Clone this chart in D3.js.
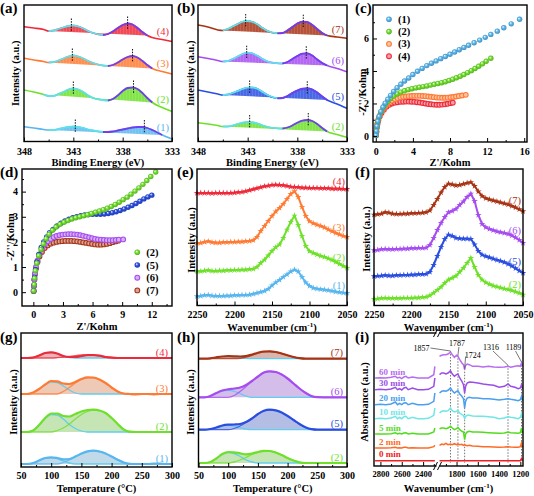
<!DOCTYPE html>
<html><head><meta charset="utf-8">
<script src="https://cdn.jsdelivr.net/npm/d3@7"></script>
<style>body{margin:0;background:#fff}svg{display:block}</style>
</head><body>
<script>
// ================= DATA =================
// (a),(b) XPS
const xpsX = [348,347,346,345.5,345,344.5,344,343.5,343,342.5,342,341.5,341,340,339.5,339,338.5,338,337.5,337,336.5,336,335.5,335,334,333];
const xpsA4 = [114.3,113,111.5,110,110.5,112,113.5,115,115.5,114.5,112.5,110,108,106,107,109.5,113,116,117.5,116.5,113,109,105.5,103.5,101.5,99.5];
const xpsA3 = [82.7,81,79.5,78.5,79,80.5,82.5,84.5,85.5,84.5,82.5,80,78,75.5,75,76,78.5,81.5,84,85,83.5,80,76,72.5,69.5,67];
const xpsA2 = [51,49,46.5,45,45,47,49,51.5,52.5,51.5,49,45.5,43,41,40.5,42,45.5,50,53,53.5,52,48,43,38.5,33.5,29.5];
const xpsA1 = [14.3,13,11.5,11,11,12,13,14,14.5,14,13,11.5,10.5,9,9,9.5,10.5,11.5,12.5,13.5,14,14,13,11,6,2];
const xpsB7 = [116,114,111,110.5,112,114.5,117,119.3,120,119,116.5,113,110,107.7,108,110.5,114,117.5,119.3,119,116,112,108,105.5,104,102.7];
const xpsB6 = [84.3,82.5,80.5,79.5,80,82,84.5,87,88.3,87.5,85,82,79.5,77.7,77.5,79,82,85,87.3,87.7,85.5,81.5,78,75.5,72.5,69.3];
const xpsB5 = [51,49,47,46,46.5,48,50,52,53.3,53.5,52,49,46,42.7,43,45,48,50.5,52.3,52.7,51.5,48.5,44.5,41,37,32.7];
const xpsB2 = [18.3,17,15.5,14.5,14.5,15.5,17,18.3,19,18.7,17.5,15.5,14,12.7,12.5,13.5,15.5,18.3,20.3,21,20,17,13,9.5,6.5,3.7];
const xpsACenters = [[343.2,337.5],[343.1,337.0],[343.0,336.9],[342.8,335.8]];
const xpsBCenters = [[343.2,337.4],[343.1,337.1],[342.8,337.0],[342.8,336.9]];
const xpsARegions = [[345.5,340,335.5],[345.5,339.5,334.5],[346,339.5,334.5],[345.5,340,334]];
const xpsBRegions = [[345.5,340,335],[345.5,339.5,335],[345.5,340,335],[345.5,339.5,334.5]];
const xpsTicks = [348,343,338,333];

// (c),(d) EIS  [Z', -Z'']
const eis1 = [[0.03,0.05],[0.08,0.3],[0.13,0.6],[0.22,0.9],[0.36,1.2],[0.55,1.5],[0.78,1.78],[1.02,2.02],[1.3,2.26],[1.6,2.5],[1.93,2.74],[2.3,2.97],[2.7,3.18],[3.1,3.38],[3.55,3.57],[4.0,3.78],[4.5,3.98],[5.0,4.16],[5.5,4.33],[6.0,4.48],[6.5,4.62],[7.0,4.76],[7.5,4.89],[8.0,5.03],[8.5,5.17],[9.0,5.31],[9.5,5.45],[10.0,5.58],[10.6,5.74],[11.2,5.9],[11.8,6.07],[12.4,6.25],[13.1,6.45],[13.8,6.66],[14.6,6.9],[15.5,7.18]];
const eis2 = [[0.03,0.05],[0.08,0.3],[0.13,0.55],[0.22,0.85],[0.36,1.15],[0.55,1.45],[0.78,1.7],[1.02,1.92],[1.3,2.12],[1.6,2.3],[1.95,2.46],[2.3,2.59],[2.7,2.7],[3.1,2.78],[3.5,2.85],[3.9,2.91],[4.3,2.96],[4.7,3.0],[5.1,3.04],[5.5,3.08],[5.9,3.13],[6.3,3.18],[6.7,3.23],[7.1,3.28],[7.5,3.34],[7.9,3.41],[8.3,3.49],[8.7,3.58],[9.1,3.68],[9.5,3.78],[9.9,3.9],[10.3,4.02],[10.7,4.15],[11.1,4.29],[11.5,4.44],[11.9,4.6],[12.4,4.78]];
const eis3 = [[0.03,0.05],[0.06,0.25],[0.1,0.5],[0.17,0.75],[0.27,1.0],[0.42,1.25],[0.62,1.5],[0.87,1.72],[1.15,1.92],[1.45,2.07],[1.75,2.18],[2.05,2.27],[2.35,2.33],[2.65,2.38],[2.95,2.41],[3.25,2.43],[3.55,2.45],[3.85,2.46],[4.15,2.47],[4.45,2.47],[4.75,2.47],[5.05,2.46],[5.35,2.45],[5.65,2.43],[5.95,2.41],[6.25,2.39],[6.55,2.37],[6.85,2.36],[7.15,2.35],[7.45,2.35],[7.75,2.36],[8.05,2.38],[8.35,2.4],[8.65,2.43],[8.95,2.46],[9.3,2.49],[9.7,2.53]];
const eis4 = [[0.03,0.05],[0.06,0.25],[0.1,0.5],[0.17,0.72],[0.27,0.95],[0.42,1.2],[0.62,1.42],[0.87,1.62],[1.15,1.8],[1.45,1.92],[1.75,2.0],[2.05,2.05],[2.35,2.08],[2.65,2.1],[2.95,2.11],[3.25,2.12],[3.55,2.12],[3.85,2.11],[4.15,2.1],[4.45,2.08],[4.75,2.06],[5.05,2.03],[5.35,2.0],[5.65,1.97],[5.95,1.95],[6.25,1.93],[6.55,1.92],[6.85,1.92],[7.15,1.93],[7.45,1.95],[7.75,1.98],[8.05,2.02],[8.3,2.05]];
const eis5 = [[0.03,0.05],[0.08,0.3],[0.13,0.6],[0.22,0.9],[0.36,1.2],[0.55,1.5],[0.8,1.78],[1.05,2.0],[1.35,2.2],[1.65,2.37],[2.0,2.5],[2.4,2.63],[2.8,2.74],[3.2,2.83],[3.6,2.9],[4.0,2.96],[4.4,3.0],[4.8,3.04],[5.2,3.07],[5.6,3.09],[6.0,3.1],[6.4,3.1],[6.8,3.1],[7.2,3.11],[7.6,3.13],[8.0,3.16],[8.4,3.2],[8.8,3.25],[9.2,3.31],[9.6,3.38],[10.0,3.45],[10.4,3.53],[10.8,3.62],[11.2,3.71],[11.6,3.79],[12.0,3.86]];
const eis6 = [[0.03,0.05],[0.06,0.25],[0.1,0.5],[0.17,0.75],[0.27,1.0],[0.42,1.25],[0.62,1.5],[0.87,1.72],[1.15,1.9],[1.45,2.03],[1.75,2.12],[2.05,2.19],[2.35,2.24],[2.65,2.27],[2.95,2.29],[3.25,2.3],[3.55,2.31],[3.85,2.31],[4.15,2.3],[4.45,2.29],[4.75,2.27],[5.05,2.24],[5.35,2.21],[5.65,2.18],[5.95,2.15],[6.25,2.12],[6.55,2.1],[6.85,2.09],[7.15,2.08],[7.45,2.07],[7.75,2.07],[8.05,2.07],[8.35,2.08],[8.65,2.09],[9.1,2.1]];
const eis7 = [[0.03,0.05],[0.06,0.25],[0.1,0.5],[0.17,0.72],[0.27,0.95],[0.42,1.2],[0.62,1.42],[0.87,1.6],[1.15,1.76],[1.45,1.86],[1.75,1.93],[2.05,1.97],[2.35,2.0],[2.65,2.02],[2.95,2.03],[3.25,2.04],[3.55,2.04],[3.85,2.04],[4.15,2.03],[4.45,2.02],[4.75,2.0],[5.05,1.98],[5.35,1.96],[5.65,1.94],[5.95,1.92],[6.25,1.9],[6.55,1.89],[6.85,1.89],[7.15,1.9],[7.45,1.92],[7.75,1.95],[8.05,1.99],[8.35,2.02],[8.6,2.05]];
const eisCTicksX = [0,4,8,12,16], eisCTicksY = [0,2,4,6];
const eisDTicksX = [0,3,6,9,12], eisDTicksY = [0,1,2,3,4];

// (e),(f) spectra (stars)
const wn = [2250,2245,2240,2235,2230,2225,2220,2215,2210,2205,2200,2195,2190,2185,2180,2175,2170,2165,2160,2155,2150,2145,2140,2135,2130,2125,2120,2115,2110,2105,2100,2095,2090,2085,2080,2075,2070,2065,2060,2055,2050];
const irE4 = [113,113,113,113,112.7,113,113,113,113,113,113.3,113.7,114,114.7,115.7,116.7,117.7,118.7,119.7,120.3,121,121.3,121,120.7,120,119.3,119,118.7,118.3,118.3,118,118,118,117.7,117.7,117.7,117.3,117.3,117.3,117,117];
const irE3 = [63,63,64,64.7,63.7,63.3,63.3,63.7,63.7,64,64,64.3,64.3,64.7,65,65.7,69,75,80,85,90,94.5,98,102,107,112,114.7,109,99,90,84.7,82.7,81.3,80,78.5,76.5,74.7,73,71.5,70,69];
const irE2 = [34.7,34.7,35.3,35.7,35,35,35.3,35.3,35.7,35.7,36,36,36.3,36.3,36.7,37,39,43,46.3,50.5,55,58.7,61.5,68,76.3,84,90.3,81,70,60,54.7,53,51.5,50,49,47.5,46,44,42,40,38];
const irE1 = [9.7,10,10.7,11,10.3,10,10,10,10.3,10.3,10.7,10.7,11,11,11.3,12,13,14,15,17,20.5,23.5,26,29,31.5,34.5,36.3,34.5,29,23.5,20,18,17.3,16.7,16.3,15.7,15,14.3,13.7,13.3,13];
const irF7 = [91.3,91.7,92.3,93.7,93.3,92.3,92,92,92.3,92.3,92.7,92.7,93,93.3,93.7,95.5,101,107,113.5,119,122.3,121.5,120.5,121,122,123,123.7,120,114.5,110,107.7,106.5,105.5,104.5,103.5,102.5,101.5,100,98.5,96.7,94.7];
const irF6 = [55.7,56,56.7,57,56.7,56.7,57,57,57.3,57.3,57.7,57.7,58,58,58.3,61,68,76,83,89,93.7,95,97,101,104.5,109,112.3,105,91,82,78.7,77,75.7,74.5,73.7,73,72,70.5,68.5,66,63];
const irF5 = [29.7,30,30.3,30.7,30.3,30.3,30.7,30.7,31,31,31.3,31.3,31.7,31.7,32,34,41,50,59,67,71.3,70,68,67.5,67.3,67.3,67,61.5,55,51.3,49.7,48.5,47.3,46,45,43.7,42,40,37.7,35.3,33];
const irF2 = [7,7.3,7.7,8,7.7,7.7,7.7,7.7,8,8,8,8.3,8.3,8.7,9,10.5,13,16,19,23,26.3,28,30,34,38,43,48,39,31,26.3,23.5,21.7,20.3,19.3,18.3,17.3,16.5,15.5,14.3,13,11.3];
const wnTicks = [2250,2200,2150,2100,2050];

// (g),(h) TPD : envelope, low-T component, high-T component
const tT = [50,60,70,80,90,100,110,120,130,140,150,160,170,180,190,200,210,220,230,240,250,260,270,280,290,300];
const tpdG4 = [109,109,109.5,111.5,114,114.7,113.5,111,110,110,111,112,112,111.3,110,109.3,109,109,109,109,109,109,109,109,109,109];
const tpdG4a = [109,109,109.5,111.5,114,114.5,113,110.5,109.3,109,109,109,109,109,109,109,109,109,109,109,109,109,109,109,109,109];
const tpdG4b = [109,109,109,109,109,109,109.3,109.8,110.6,111.4,112,112.2,112,111.3,110.3,109.6,109.2,109,109,109,109,109,109,109,109,109];
const tpdG3 = [73,73,74.5,78,82.5,86,85.7,83.5,83,85,88,89.7,89.5,87.5,84,79.5,75.5,73.5,73,72.7,73,73,72.7,73,73,73];
const tpdG3a = [73,73,74.5,78,82.3,85,84.5,81,77,74,73,73,73,73,73,73,73,73,73,73,73,73,73,73,73,73];
const tpdG3b = [73,73,73,73,73,73,73,75.5,79.5,84,87.5,89.3,89.2,87.3,84,79.5,75.5,73.3,73,73,73,73,73,73,73,73];
const tpdG2 = [35,35,36.5,42,49,53.5,53.5,51,50.5,53,55.5,57,57.3,56.5,54,49,43,37.5,35.3,35,35,35,35,35,35,35];
const tpdG2a = [35,35,36.5,42,48.5,52.5,52,48,42.5,38.5,36,35,35,35,35,35,35,35,35,35,35,35,35,35,35,35];
const tpdG2b = [35,35,35,35,35,35,36.5,39,43,48,52.5,55.5,57,56.3,54,49,43,37.5,35,35,35,35,35,35,35,35];
const tpdG1 = [3,3,4,6.5,9,9.7,9,7.7,8,10.5,13.5,15.7,16.3,15.5,13.5,10.5,7.3,4.5,3.2,3,3,3,3.5,3.5,3,3];
const tpdG1a = [3,3,4,6.5,8.7,9.3,8.3,6,4,3,3,3,3,3,3,3,3,3,3,3,3,3,3,3,3,3];
const tpdG1b = [3,3,3,3,3,3,3,4.5,7,10,13,15.3,16.2,15.5,13.5,10.5,7.3,4.5,3,3,3,3,3,3,3,3];
const tpdH7 = [108.3,108.3,108.7,109.7,110.5,110.8,110.7,110.5,111,112.5,114.3,115.5,115.7,115,113.5,111.7,110,108.8,108.3,108.3,108.3,108.3,108.3,108.3,108.3,108.3];
const tpdH7a = [108.3,108.3,108.7,109.5,110.3,110.7,110.4,109.5,108.7,108.3,108.3,108.3,108.3,108.3,108.3,108.3,108.3,108.3,108.3,108.3,108.3,108.3,108.3,108.3,108.3,108.3];
const tpdH7b = [108.3,108.3,108.3,108.3,108.3,108.3,108.3,108.7,109.8,111.7,113.8,115.2,115.6,115,113.5,111.7,110,108.8,108.3,108.3,108.3,108.3,108.3,108.3,108.3,108.3];
const tpdH6 = [69.7,69.7,71,74,76.5,77.7,78.5,79.5,82,86,90.5,94.5,95.7,95,92.5,88.5,83.5,78.5,74.2,71,69.8,69.7,69.7,69.7,69.7,69.7];
const tpdH6a = [69.7,69.7,71,73.7,76,76.7,75.7,73.5,71,69.7,69.7,69.7,69.7,69.7,69.7,69.7,69.7,69.7,69.7,69.7,69.7,69.7,69.7,69.7,69.7,69.7];
const tpdH6b = [69.7,69.7,69.7,69.7,69.7,69.7,71.5,75.5,80.5,85.5,90.2,94.3,95.6,95,92.5,88.5,83.5,78.5,74.2,71,69.7,69.7,69.7,69.7,69.7,69.7];
const tpdH5 = [37.3,37.3,38,39.5,41.5,42.3,42.5,43,45,48.5,53,56.3,57.3,56.7,54.5,51,47,43,39.7,37.8,37.3,37.3,37.3,37.3,37.3,37.3];
const tpdH5a = [37.3,37.3,38,39.3,41,41.7,41,39.3,37.8,37.3,37.3,37.3,37.3,37.3,37.3,37.3,37.3,37.3,37.3,37.3,37.3,37.3,37.3,37.3,37.3,37.3];
const tpdH5b = [37.3,37.3,37.3,37.3,37.3,37.3,38.5,41,44.5,48.5,53,56.2,57.2,56.7,54.5,51,47,43,39.7,37.8,37.3,37.3,37.3,37.3,37.3,37.3];
const tpdH2 = [4,4,5,8.5,13,15,14.7,13.7,12.7,13.5,15,16.2,16,14.5,12,9,6.5,4.7,4,4,4,4,4,4,4,4];
const tpdH2a = [4,4,5,8.3,12.5,14.3,13.5,10.5,7.2,5,4,4,4,4,4,4,4,4,4,4,4,4,4,4,4,4];
const tpdH2b = [4,4,4,4,4,4,5,7,9.5,12.5,14.7,16,16,14.5,12,9,6.5,4.7,4,4,4,4,4,4,4,4];
const tTicks = [50,100,150,200,250,300];

// (i) in-situ DRIFTS (broken axis)
const ftL = [2850,2800,2750,2700,2660,2640,2620,2600,2580,2560,2540,2500,2450,2400,2350,2300,2290];
const ftR = [1960,1940,1920,1900,1880,1857,1840,1820,1800,1787,1770,1750,1735,1724,1715,1700,1680,1650,1600,1550,1500,1450,1400,1350,1316,1290,1250,1220,1200,1189,1180];
const ft60L = [88,88.3,88,88.7,89.7,88,88.7,87.3,89,89.7,88,89,88,88,88,91.3,99.7];
const ft30L = [76.3,76.7,76.3,77,78.7,76.3,77.3,76,78,78.7,76.3,78,76.3,76.3,76.7,79.7,88];
const ft20L = [61.3,61.7,61.3,62,64,61.3,62.7,61.3,63,63.3,61.3,62.7,61.3,61.3,61.7,64.7,73];
const ft10L = [47.3,47.7,47.3,48,49.7,47.3,48.7,47.3,49.3,49.7,47.3,48.7,47.3,47.3,47.7,50.7,58];
const ft5L = [32,32,32,32.3,33.3,32,32.7,32,33,33.3,32,32.7,32,32,32,34,38];
const ft2L = [18,18,18,18.3,18.7,18,18.3,18,18.7,18.7,18,18.3,18,18,18,19.3,20.7];
const ft0L = [5.3,5.3,5.3,5.3,5.3,5.3,5.3,5.3,5.3,5.3,5.3,5.3,5.3,5.3,5.3,5.3,5.3];
const ft60R = [109.7,110.7,111.3,111.3,112,114,111.3,108.7,110.7,109.7,106.3,103,101.3,96.3,100.7,102,101.3,99.7,99.7,99,99.7,99,98.7,99,99.7,98.7,99.7,100.3,99.7,103,99.7];
const ft30R = [91.3,93,93,92,93,95.3,92,89.7,91.3,92,88,84.7,81.3,73,79.7,83,84,83.7,83,82,81.3,80.7,78.7,79.7,82,79.7,78.7,77.3,78,81.3,77.3];
const ft20R = [73,74.7,75.3,74.7,75.7,78,75.3,73,74.7,75.3,72,69.7,67.3,58,64.7,68,68.7,68,68,67.3,67.3,66.7,66,66.7,67.3,66.7,66,65.3,66.3,69.7,65.3];
const ft10R = [53,54.7,55.3,54.7,55.3,58,55.3,54,54.7,55.3,53,51.3,50.7,47.3,49.7,50.7,50.7,50,49.7,49.7,49.3,48.7,47.3,48,49.3,48.7,48,47.3,48.7,52,48];
const ft5R = [37.3,38,38,37.3,38,39.7,38,36.3,37.3,38.7,36.3,34.7,34,26.3,32,34,34.7,34,34,33.7,33.3,33,32.7,33,34,33.3,33,32.7,33.3,38,33];
const ft2R = [20.7,22,21.3,22.7,21.3,22,21.3,22.3,21.3,22,21.3,21.7,20.7,21.3,20.7,20.3,20.7,20,19.7,19.3,19.3,19,18.7,19,19.3,19,18.7,18.7,19.3,23,18.7];
const ft0R = [5.3,5.3,5.3,5.3,5.3,5.3,5.3,5.3,5.3,5.3,5.3,5.3,5.3,5.3,5.3,5.3,5.3,5.3,5.3,5.3,5.3,5.3,5.3,5.3,5.3,5.3,5.3,5.3,5.3,7.3,5.3];
const ftNames = ["60 min","30 min","20 min","10 min","5 min","2 min","0 min"];
const ftPeaks = [1857,1787,1724,1316,1189];
const ftTicksL = [2800,2600,2400], ftTicksR = [1800,1600,1400,1200];

// colours
const C = {1:"#58b6ee",2:"#6ee02a",3:"#ff7a33",4:"#ee2a3a",5:"#2a4ee0",6:"#a64cf0",7:"#a83416"};
const ftColors = ["#b86cf0","#9a4ee6","#4a9ff0","#70e6e6","#52dc1e","#ff6a26","#f02020"];

// ================= DRAW =================
const FONT = "'Liberation Serif','Times New Roman',Times,serif";
const svg = d3.select("body").append("svg").attr("width",534).attr("height",496);
const defs = svg.append("defs");

function txt(x,y,s,o={}){
  const t = svg.append("text").attr("x",x).attr("y",y).text(s)
    .attr("font-family",FONT).attr("font-size",o.size||10.5)
    .attr("font-weight",o.weight||"bold").attr("fill",o.fill||"#000")
    .attr("text-anchor",o.anchor||"start");
  if(o.rot){ t.attr("dominant-baseline","central").attr("transform",`rotate(-90,${x},${y})`); }
  return t;
}
function frame(f){
  svg.append("rect").attr("x",f.x0).attr("y",f.y0).attr("width",f.x1-f.x0).attr("height",f.y1-f.y0)
    .attr("fill","none").attr("stroke","#000").attr("stroke-width",1.4);
}
function styleAxis(g,fs){
  g.select(".domain").remove();
  g.attr("font-family",FONT).attr("font-size",fs||10).attr("font-weight","bold");
  g.selectAll("line").attr("stroke","#000").attr("stroke-width",1);
  g.selectAll("text").attr("fill","#000");
}
function xAxis(sc,y,ticks,minor,pad,fs){
  const g = svg.append("g").attr("transform",`translate(0,${y})`)
    .call(d3.axisBottom(sc).tickValues(ticks).tickSizeInner(-4).tickSizeOuter(0).tickPadding(pad||5).tickFormat(d3.format("d")));
  styleAxis(g,fs);
  if(minor){ const m = svg.append("g").attr("transform",`translate(0,${y})`)
    .call(d3.axisBottom(sc).tickValues(minor).tickSizeInner(-2).tickSizeOuter(0).tickFormat(""));
    styleAxis(m); }
}
function yAxis(sc,x,ticks,minor){
  const g = svg.append("g").attr("transform",`translate(${x},0)`)
    .call(d3.axisLeft(sc).tickValues(ticks).tickSizeInner(-4).tickSizeOuter(0).tickPadding(4).tickFormat(d3.format("d")));
  styleAxis(g);
  if(minor){ const m = svg.append("g").attr("transform",`translate(${x},0)`)
    .call(d3.axisLeft(sc).tickValues(minor).tickSizeInner(-2).tickSizeOuter(0).tickFormat(""));
    styleAxis(m); }
}
function wnTitle(cx,y){
  const t = txt(cx,y,"Wavenumber (cm",{anchor:"middle"});
  t.append("tspan").attr("font-size",7).attr("dy",-4).text("-1");
  t.append("tspan").attr("dy",4).text(")");
}
function panelLabel(x,y,s){ txt(x,y,s,{size:15}); }

// ---------- (a),(b) ----------
const FA = {x0:24,x1:172,y0:5,y1:141.5}, FB = {x0:198,x1:347,y0:5,y1:141.5};
const hp = defs.append("pattern").attr("id","hatch").attr("patternUnits","userSpaceOnUse").attr("width",3).attr("height",3);
hp.append("line").attr("x1",0).attr("y1",0).attr("x2",0).attr("y2",3).attr("stroke","#fff").attr("stroke-opacity",0.22).attr("stroke-width",1);
function drawXPS(F,series,cols,centers,regions,names){
  const x = d3.scaleLinear().domain([348,333]).range([F.x0,F.x1]);
  const y = d3.scaleLinear().domain([0,136]).range([141,5]);
  const ln = d3.line().x(p=>x(p[0])).y(p=>y(p[1])).curve(d3.curveMonotoneX);
  series.forEach((vals,i)=>{
    const col = cols[i];
    const pts = xpsX.map((v,j)=>[v,vals[j]]);
    const [s,v,e] = regions[i];
    const inR = pts.filter(p=>p[0]<=s && p[0]>=e);
    svg.append("path").attr("d",ln(inR)+"Z").attr("fill",col).attr("fill-opacity",0.85);
    svg.append("path").attr("d",ln(inR)+"Z").attr("fill","url(#hatch)");
    svg.append("path").attr("d",ln(pts)).attr("fill","none").attr("stroke",col).attr("stroke-width",1.6);
    svg.append("path").attr("d",ln(pts.filter(p=>p[0]<=s && p[0]>=v))).attr("fill","none").attr("stroke","#5fe0ee").attr("stroke-width",1.8);
    svg.append("path").attr("d",ln(pts.filter(p=>p[0]<=v && p[0]>=e))).attr("fill","none").attr("stroke","#7040f0").attr("stroke-width",1.8);
    centers[i].forEach(c=>{
      const j = d3.minIndex(xpsX,a=>Math.abs(a-c));
      const top = d3.max(vals.slice(Math.max(0,j-1),j+2));
      svg.append("line").attr("x1",x(c)).attr("x2",x(c)).attr("y1",y(top+7)).attr("y2",y(top-6))
        .attr("stroke","#111").attr("stroke-width",1).attr("stroke-dasharray","1.5,1.2");
    });
    const lv = vals[xpsX.indexOf(334)];
    txt(F.x1-3,y(lv+8)+3.5,names[i],{anchor:"end",fill:col,size:10.5,weight:"normal"});
  });
  frame(F);
  xAxis(x,F.y1,xpsTicks,[345.5,340.5,335.5],6);
  txt((F.x0+F.x1)/2,165.5,"Binding Energy (eV)",{anchor:"middle"});
}
drawXPS(FA,[xpsA4,xpsA3,xpsA2,xpsA1],[C[4],C[3],C[2],C[1]],xpsACenters,xpsARegions,["(4)","(3)","(2)","(1)"]);
drawXPS(FB,[xpsB7,xpsB6,xpsB5,xpsB2],[C[7],C[6],C[5],C[2]],xpsBCenters,xpsBRegions,["(7)","(6)","(5)","(2)"]);
txt(15,(FA.y0+FA.y1)/2,"Intensity (a.u.)",{anchor:"middle",rot:true});
txt(190.5,(FB.y0+FB.y1)/2,"Intensity (a.u.)",{anchor:"middle",rot:true});
panelLabel(0,13,"(a)"); panelLabel(177,13,"(b)");

// ---------- ball markers ----------
function grad(id,col){
  const g = defs.append("radialGradient").attr("id",id).attr("cx","50%").attr("cy","50%").attr("r","55%").attr("fx","35%").attr("fy","32%");
  g.append("stop").attr("offset","0%").attr("stop-color","#ffffff");
  g.append("stop").attr("offset","45%").attr("stop-color",col);
  g.append("stop").attr("offset","100%").attr("stop-color",d3.color(col).darker(0.8));
}
[1,2,3,4,5,6,7].forEach(k=>grad("b"+k,C[k]));
function balls(x,y,data,k,ring){
  svg.append("g").selectAll("circle").data(data).join("circle")
    .attr("cx",d=>x(d[0])).attr("cy",d=>y(d[1])).attr("r",ring?2.4:2.7)
    .attr("fill",ring? d3.interpolateRgb(C[k],"#fff")(0.55) : `url(#b${k})`)
    .attr("stroke",ring?C[k]:"none").attr("stroke-width",1.1);
}
function legend(x,y0,dy,ks,rings){
  ks.forEach((k,i)=>{
    const yy = y0+i*dy;
    svg.append("circle").attr("cx",x).attr("cy",yy).attr("r",rings[i]?2.4:2.8)
      .attr("fill",rings[i]?d3.interpolateRgb(C[k],"#fff")(0.55):`url(#b${k})`).attr("stroke",rings[i]?C[k]:"none").attr("stroke-width",1.1);
    txt(x+9,yy+3.5,`(${k})`,{size:10.5});
  });
}

// ---------- (c) ----------
const FC = {x0:373,x1:527,y0:5,y1:142};
{
  const x = d3.scaleLinear().domain([-0.3,16.3]).range([FC.x0,FC.x1]);
  const y = d3.scaleLinear().domain([-0.37,8.06]).range([FC.y1,FC.y0]);
  balls(x,y,eis4,4,true); balls(x,y,eis3,3,true); balls(x,y,eis2,2,false); balls(x,y,eis1,1,false);
  frame(FC);
  xAxis(x,FC.y1,eisCTicksX,[2,6,10,14],6);
  yAxis(y,FC.x0,eisCTicksY,[1,3,5,7]);
  legend(389,19.3,12.3,[1,2,3,4],[false,false,true,true]);
  txt((FC.x0+FC.x1)/2,165.5,"Z'/Kohm",{anchor:"middle"});
  txt(362,92,"-Z''/Kohm",{anchor:"middle",rot:true});
  panelLabel(355,13,"(c)");
}
// ---------- (d) ----------
const FD = {x0:22,x1:172,y0:169,y1:306};
{
  const x = d3.scaleLinear().domain([-1.15,14.05]).range([FD.x0,FD.x1]);
  const y = d3.scaleLinear().domain([-0.55,4.9]).range([FD.y1,FD.y0]);
  balls(x,y,eis7,7,true); balls(x,y,eis6,6,true); balls(x,y,eis5,5,false); balls(x,y,eis2,2,false);
  frame(FD);
  xAxis(x,FD.y1,eisDTicksX,[1.5,4.5,7.5,10.5,13.5]);
  yAxis(y,FD.x0,eisDTicksY,[0.5,1.5,2.5,3.5,4.5]);
  legend(137.3,252.3,12.7,[2,5,6,7],[false,false,true,true]);
  txt((FD.x0+FD.x1)/2,330,"Z'/Kohm",{anchor:"middle"});
  txt(10,237,"-Z''/Kohm",{anchor:"middle",rot:true});
  panelLabel(0,177,"(d)");
}
// ---------- (e),(f) ----------
const FE = {x0:197,x1:347,y0:169,y1:305.5}, FF = {x0:374,x1:523,y0:169,y1:305.5};
function drawStars(F,series,ks,names){
  const x = d3.scaleLinear().domain([2250,2050]).range([F.x0,F.x1]);
  const y = d3.scaleLinear().domain([0,137]).range([306,169]);
  const ln = d3.line().x(p=>x(p[0])).y(p=>y(p[1]));
  const star = d3.symbol().type(d3.symbolStar).size(13);
  series.forEach((vals,i)=>{
    const col = C[ks[i]];
    const pts = wn.map((w,j)=>[w,vals[j]]);
    svg.append("path").attr("d",ln(pts)).attr("fill","none").attr("stroke",col).attr("stroke-width",2);
    svg.append("g").selectAll("path").data(pts).join("path")
      .attr("transform",d=>`translate(${x(d[0])},${y(d[1])})`).attr("d",star).attr("fill",col);
    txt(F.x1-2,y(vals[wn.indexOf(2060)]+7)+3.5,names[i],{anchor:"end",fill:col,weight:"normal"});
  });
  frame(F);
  xAxis(x,F.y1,wnTicks,[2225,2175,2125,2075]);
  wnTitle((F.x0+F.x1)/2,331);
}
drawStars(FE,[irE4,irE3,irE2,irE1],[4,3,2,1],["(4)","(3)","(2)","(1)"]);
drawStars(FF,[irF7,irF6,irF5,irF2],[7,6,5,2],["(7)","(6)","(5)","(2)"]);
txt(191,240,"Intensity (a.u.)",{anchor:"middle",rot:true});
txt(366,239,"Intensity (a.u.)",{anchor:"middle",rot:true});
panelLabel(177,177,"(e)"); panelLabel(355,177,"(f)");

// ---------- (g),(h) ----------
const FG = {x0:21,x1:172,y0:333,y1:467}, FH = {x0:198.5,x1:347,y0:333,y1:467};
function drawTPD(F,sets,ks,names){
  const x = d3.scaleLinear().domain([50,300]).range([F.x0,F.x1]);
  const y = d3.scaleLinear().domain([0,134]).range([467,333]);
  const ln = d3.line().x(p=>x(p[0])).y(p=>y(p[1])).curve(d3.curveMonotoneX);
  sets.forEach(([env,a,b],i)=>{
    const col = C[ks[i]];
    const base = env[0];
    const pts = tT.map((t,j)=>[t,env[j]]);
    const ar = d3.area().x(p=>x(p[0])).y0(y(base)).y1(p=>y(p[1])).curve(d3.curveMonotoneX);
    svg.append("path").attr("d",ar(pts)).attr("fill",d3.interpolateRgb(col,"#8a8a8a")(0.35)).attr("fill-opacity",0.42);
    svg.append("path").attr("d",ln(tT.map((t,j)=>[t,a[j]]))).attr("fill","none").attr("stroke","#62cdef").attr("stroke-width",1.3);
    svg.append("path").attr("d",ln(tT.map((t,j)=>[t,b[j]]))).attr("fill","none").attr("stroke",col).attr("stroke-width",1.3).attr("stroke-opacity",0.8);
    svg.append("path").attr("d",ln(pts)).attr("fill","none").attr("stroke",col).attr("stroke-width",2.2);
    txt(F.x1-4,y(base+6)+3.5,names[i],{anchor:"end",fill:col,weight:"normal"});
  });
  frame(F);
  xAxis(x,F.y1,tTicks,[75,125,175,225,275]);
  const t = txt((F.x0+F.x1)/2,492,"Temperature (",{anchor:"middle"});
  t.append("tspan").text("°C)");
}
drawTPD(FG,[[tpdG4,tpdG4a,tpdG4b],[tpdG3,tpdG3a,tpdG3b],[tpdG2,tpdG2a,tpdG2b],[tpdG1,tpdG1a,tpdG1b]],[4,3,2,1],["(4)","(3)","(2)","(1)"]);
drawTPD(FH,[[tpdH7,tpdH7a,tpdH7b],[tpdH6,tpdH6a,tpdH6b],[tpdH5,tpdH5a,tpdH5b],[tpdH2,tpdH2a,tpdH2b]],[7,6,5,2],["(7)","(6)","(5)","(2)"]);
txt(13.5,402,"Intensity (a.u.)",{anchor:"middle",rot:true});
txt(190,402,"Intensity (a.u.)",{anchor:"middle",rot:true});
panelLabel(0,342,"(g)"); panelLabel(177,342,"(h)");

// ---------- (i) ----------
const FI = {x0:374,x1:523,y0:333,y1:466};
{
  const xL = d3.scaleLinear().domain([2860,2270]).range([FI.x0,437]);
  const xR = d3.scaleLinear().domain([1965,1175]).range([439,FI.x1]);
  const y = d3.scaleLinear().domain([0,133]).range([466,333]);
  const lnL = d3.line().x(p=>xL(p[0])).y(p=>y(p[1]));
  const lnR = d3.line().x(p=>xR(p[0])).y(p=>y(p[1]));
  const Ls = [ft60L,ft30L,ft20L,ft10L,ft5L,ft2L,ft0L];
  const Rs = [ft60R,ft30R,ft20R,ft10R,ft5R,ft2R,ft0R];
  ftPeaks.forEach(p=>{
    const j = d3.minIndex(ftR,w=>Math.abs(w-p));
    svg.append("line").attr("x1",xR(p)).attr("x2",xR(p)).attr("y1",y(ft60R[j]+1)).attr("y2",y(ft0R[j]-2))
      .attr("stroke","#666").attr("stroke-width",0.9).attr("stroke-dasharray","1.5,1.5");
  });
  Ls.forEach((L,i)=>{
    const col = ftColors[i];
    svg.append("path").attr("d",lnL(ftL.map((w,j)=>[w,L[j]]))).attr("fill","none").attr("stroke",col).attr("stroke-width",1.5);
    svg.append("path").attr("d",lnR(ftR.map((w,j)=>[w,Rs[i][j]]))).attr("fill","none").attr("stroke",col).attr("stroke-width",1.5);
    txt(379,y(L[0]+6.5)+3,ftNames[i],{fill:col,size:9});
  });
  frame(FI);
  [FI.y0,FI.y1].forEach(yy=>{
    svg.append("rect").attr("x",436.5).attr("y",yy-2).attr("width",3).attr("height",4).attr("fill","#fff");
    [435.5,439.5].forEach(xx=>svg.append("line").attr("x1",xx-2).attr("y1",yy+4).attr("x2",xx+2).attr("y2",yy-4).attr("stroke","#000").attr("stroke-width",1));
  });
  xAxis(xL,FI.y1,ftTicksL,[2700,2500,2300],5,8.5);
  xAxis(xR,FI.y1,ftTicksR,[1900,1700,1500,1300],5,8.5);
  wnTitle((FI.x0+FI.x1)/2,492);
  txt(364.5,402,"Absorbance (a.u.)",{anchor:"middle",rot:true});
  panelLabel(355,342,"(i)");
  // annotations: [wavenumber, text dx from guide, text baseline]
  const ann = [[1857,-29,351],[1787,-1,346],[1724,8,357.5],[1316,-17,350],[1189,-8,350]];
  ann.forEach(([p,dx,yb])=>{
    const j = d3.minIndex(ftR,w=>Math.abs(w-p));
    const gx = xR(p), gy = y(ft60R[j]+1);
    const xt = gx+dx;
    txt(xt,yb,String(p),{anchor:"middle",size:8,weight:"normal"});
    let x1,y1;
    if(p===1857){ x1=xt+9; y1=yb-3; }
    else if(p===1724){ x1=xt-7; y1=yb-1; }
    else { x1=xt+2; y1=yb+1; }
    svg.append("line").attr("x1",x1).attr("y1",y1).attr("x2",gx).attr("y2",gy)
      .attr("stroke","#555").attr("stroke-width",0.8);
  });
}
</script>
</body></html>
